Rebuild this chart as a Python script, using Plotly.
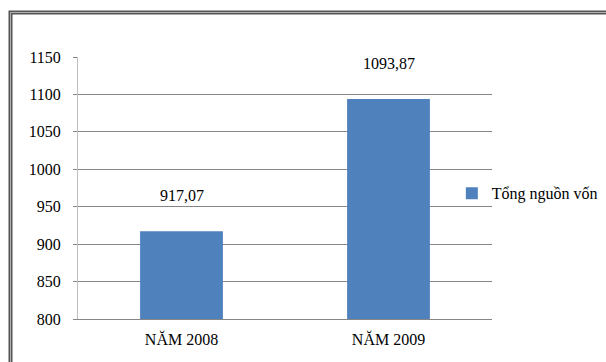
import plotly.graph_objects as go

categories = ["NĂM 2008", "NĂM 2009"]
values = [917.07, 1093.87]
series_name = "Tổng nguồn vốn"
y_ticks = [800, 850, 900, 950, 1000, 1050, 1100, 1150]

W, H = 606, 362
L, R, T, B = 78, 114, 57, 43

FONT = "Liberation Serif"
FS = 16

fig = go.Figure()
fig.add_trace(go.Bar(
    x=categories, y=values, name=series_name,
    marker=dict(color="#4f81bd", line=dict(width=0)),
    showlegend=True,
))

for c, v in zip(categories, values):
    fig.add_annotation(
        x=c, y=v, text=f"{v:.2f}".replace(".", ","),
        showarrow=False, yshift=36, yanchor="middle",
        font=dict(family=FONT, size=FS, color="#000000"),
    )

# outer double frame
fx0 = (10.5 - L) / (W - L - R)
fx1 = (W + 20 - L) / (W - L - R)
fy0 = -(B + 20) / (H - T - B)
fy1 = (H - B - 12.5) / (H - T - B)
fig.add_shape(type="rect", xref="paper", yref="paper",
              x0=fx0, x1=fx1, y0=fy0, y1=fy1,
              line=dict(color="#555555", width=4), layer="above")
fig.add_shape(type="rect", xref="paper", yref="paper",
              x0=fx0, x1=fx1, y0=fy0, y1=fy1,
              line=dict(color="#b0b0b0", width=1), layer="above")

fig.update_layout(
    width=W, height=H,
    margin=dict(l=L, r=R, t=T, b=B, pad=0, autoexpand=False),
    paper_bgcolor="white", plot_bgcolor="white",
    bargap=0.6,
    font=dict(family=FONT, size=FS, color="#000000"),
    xaxis=dict(
        showline=True, linecolor="#868686", linewidth=1,
        ticks="", showgrid=False, tickfont=dict(family=FONT, size=FS),
        ticklabelstandoff=6, automargin=False,
    ),
    yaxis=dict(
        range=[800, 1150], tickvals=y_ticks,
        showgrid=True, gridcolor="#868686", gridwidth=1,
        showline=True, linecolor="#bfbfbf", linewidth=1,
        ticks="outside", ticklen=4, tickcolor="#868686",
        tickfont=dict(family=FONT, size=FS),
        zeroline=False, ticklabelstandoff=9, automargin=False,
    ),
    legend=dict(
        x=0.903, xanchor="left", y=0.48, yanchor="middle",
        font=dict(family=FONT, size=FS), bgcolor="rgba(0,0,0,0)",
        itemwidth=30, tracegroupgap=0,
    ),
)

fig.write_html("out.html")
